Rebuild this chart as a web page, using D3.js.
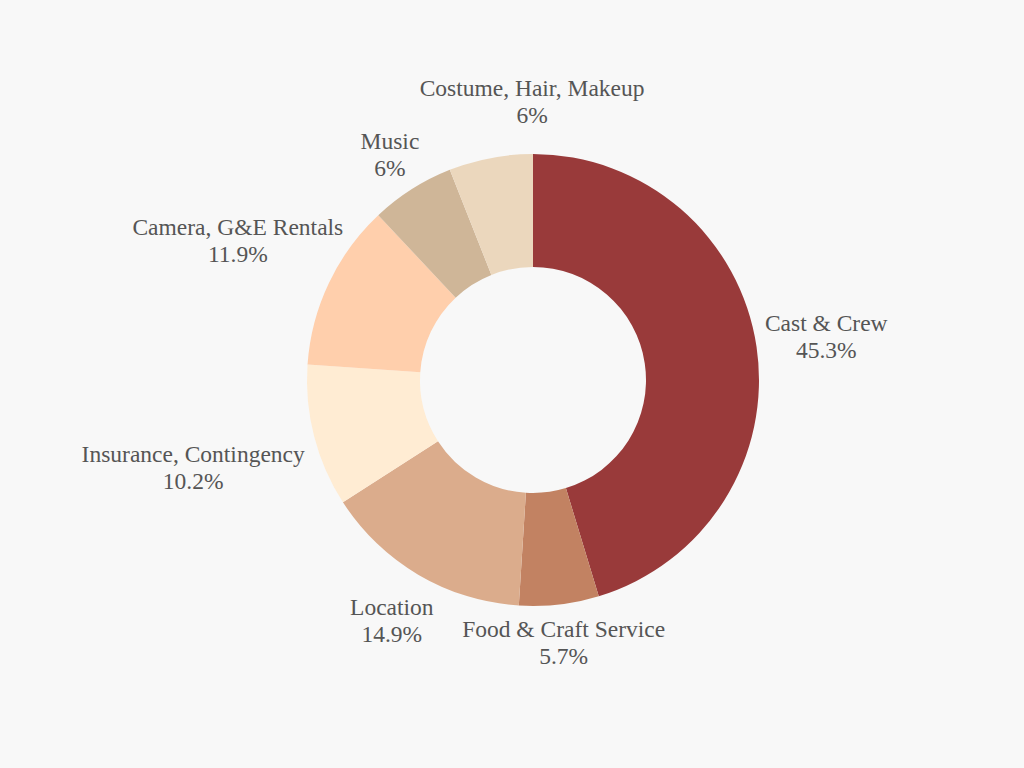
<!DOCTYPE html>
<html>
<head>
<meta charset="utf-8">
<script src="https://cdn.jsdelivr.net/npm/d3@7"></script>
<style>
  html, body { margin: 0; padding: 0; background: #f8f8f8; }
  svg { display: block; }
</style>
</head>
<body>
<svg id="chart" width="1024" height="768"></svg>
<script>
const categories = ["Cast & Crew", "Food & Craft Service", "Location", "Insurance, Contingency", "Camera, G&E Rentals", "Music", "Costume, Hair, Makeup"];
const values = [45.3, 5.7, 14.9, 10.2, 11.9, 6, 6];
const valueLabels = ["45.3%", "5.7%", "14.9%", "10.2%", "11.9%", "6%", "6%"];
const colors = ["#993a3a", "#c28262", "#dbac8c", "#ffecd3", "#ffcfac", "#cfb698", "#ebd7bd"];

const W = 1024, H = 768;
const cx = 533, cy = 380;
const outerR = 226, innerR = 113;
const gap = 10;
const lineH = 27;

const svg = d3.select("#chart");
svg.append("rect").attr("width", W).attr("height", H).attr("fill", "#f8f8f8");

const data = categories.map((c, i) => ({ name: c, value: values[i], label: valueLabels[i], color: colors[i] }));
const pie = d3.pie().value(d => d.value).sort(null);
const arcs = pie(data);
const arc = d3.arc().innerRadius(innerR).outerRadius(outerR);

const g = svg.append("g").attr("transform", `translate(${cx},${cy})`);
g.selectAll("path.slice").data(arcs).join("path")
  .attr("class", "slice")
  .attr("d", arc)
  .attr("fill", d => d.data.color);

const labels = g.selectAll("g.label").data(arcs).join("g").attr("class", "label");
const boxes = [];
labels.each(function(d) {
  const lg = d3.select(this);
  const lines = [d.data.name, d.data.label].map((txt, k) => {
    const t = lg.append("text")
      .attr("text-anchor", "middle")
      .attr("font-family", "'Liberation Serif', 'DejaVu Serif', serif")
      .attr("font-size", 23.5)
      .attr("fill", "#555555")
      .attr("x", 0)
      .attr("y", (k === 0 ? -lineH / 2 : lineH / 2))
      .attr("dy", "0.35em")
      .text(txt);
    const bb = t.node().getBBox();
    return { x0: bb.x, x1: bb.x + bb.width, y0: bb.y, y1: bb.y + bb.height };
  });
  boxes.push({
    node: this, lines, a: (d.startAngle + d.endAngle) / 2,
    bx0: d3.min(lines, l => l.x0), bx1: d3.max(lines, l => l.x1),
    by0: d3.min(lines, l => l.y0), by1: d3.max(lines, l => l.y1)
  });
});

function minDist(b, x, y) {
  let m = Infinity;
  b.lines.forEach(l => {
    const nx = Math.max(x + l.x0, Math.min(0, x + l.x1));
    const ny = Math.max(y + l.y0, Math.min(0, y + l.y1));
    m = Math.min(m, Math.hypot(nx, ny));
  });
  return m;
}
function place(b) {
  const vx = Math.sin(b.a), vy = -Math.cos(b.a);
  let lo = 0, hi = 600;
  for (let k = 0; k < 40; k++) {
    const mid = (lo + hi) / 2;
    if (minDist(b, mid * vx, mid * vy) >= outerR + gap) hi = mid; else lo = mid;
  }
  b.x = hi * vx; b.y = hi * vy;
}
function overlap(p, q) {
  return p.x + p.bx0 < q.x + q.bx1 && q.x + q.bx0 < p.x + p.bx1 &&
         p.y + p.by0 < q.y + q.by1 && q.y + q.by0 < p.y + p.by1;
}
boxes.forEach(place);
// resolve collisions: later label is pushed directly away from its predecessor
for (let i = 1; i < boxes.length; i++) {
  const p = boxes[i - 1], q = boxes[i];
  if (!overlap(p, q)) continue;
  const dx = q.x - p.x, dy = q.y - p.y, len = Math.hypot(dx, dy) || 1;
  let n = 0;
  while (overlap(p, q) && n < 500) { q.x += dx / len * 0.5; q.y += dy / len * 0.5; n++; }
}
boxes.forEach(b => d3.select(b.node).attr("transform", `translate(${b.x},${b.y})`));
</script>
</body>
</html>
